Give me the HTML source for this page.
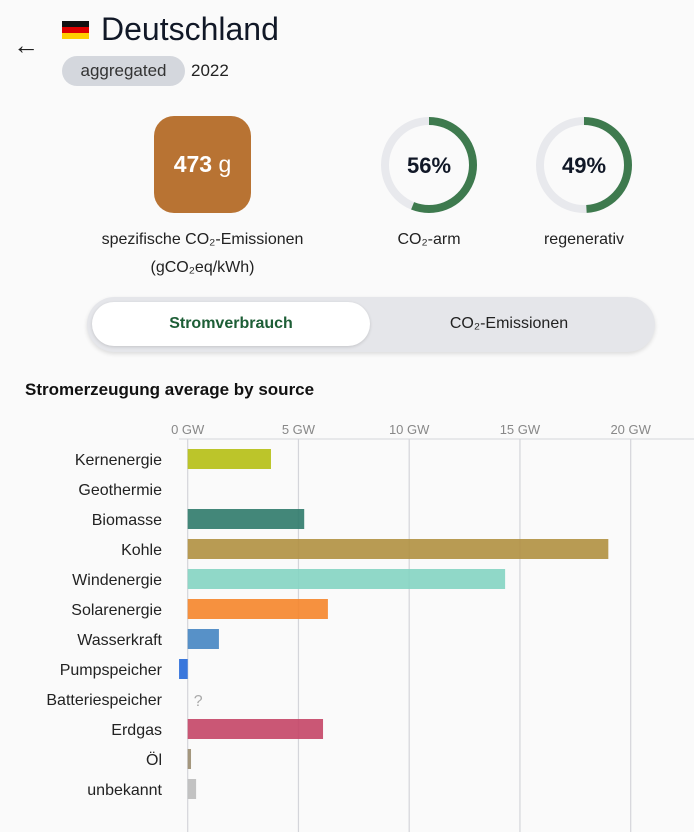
<!DOCTYPE html>
<html><head><meta charset="utf-8"><style>
body{margin:0;width:694px;height:832px;background:#fafafa;font-family:"Liberation Sans",sans-serif;color:#1a1f2e;position:relative;overflow:hidden}
.abs{position:absolute}
</style></head><body>
<div class="abs" style="left:13px;top:30px;font-size:26px;line-height:30px;color:#222">&#8592;</div>
<div class="abs" style="left:62px;top:21px;width:27px;height:18px">
<div style="height:6px;background:#111"></div><div style="height:6px;background:#dd0000"></div><div style="height:6px;background:#ffce00"></div></div>
<div class="abs" style="left:101px;top:10px;font-size:32px;line-height:38px;color:#111827">Deutschland</div>
<div class="abs" style="left:62px;top:56px;width:123px;height:30px;border-radius:15px;background:#d4d7dd;font-size:17px;line-height:30px;text-align:center;color:#333">aggregated</div>
<div class="abs" style="left:191px;top:56px;font-size:17px;line-height:30px;color:#222">2022</div>
<div class="abs" style="left:154px;top:116px;width:97px;height:97px;border-radius:20px;background:#b87333;color:#fff;text-align:center;line-height:97px;font-size:23px"><b>473</b> g</div>
<div class="abs" style="left:60px;top:226px;width:285px;text-align:center;font-size:16px;line-height:28px;color:#222">spezifische CO₂-Emissionen<br>(gCO₂eq/kWh)</div>
<svg class="abs" style="left:0;top:0" width="694" height="300">
<g>
<circle cx="429" cy="165" r="44" fill="none" stroke="#e8e9ed" stroke-width="8"/>
<circle cx="429" cy="165" r="44" fill="none" stroke="#3e7a4e" stroke-width="8" stroke-dasharray="154.8 400" transform="rotate(-90 429 165)"/>
<text x="429" y="173" text-anchor="middle" font-size="22" font-weight="bold" fill="#111827" font-family="Liberation Sans">56%</text></g>
<g>
<circle cx="584" cy="165" r="44" fill="none" stroke="#e8e9ed" stroke-width="8"/>
<circle cx="584" cy="165" r="44" fill="none" stroke="#3e7a4e" stroke-width="8" stroke-dasharray="135.5 400" transform="rotate(-90 584 165)"/>
<text x="584" y="173" text-anchor="middle" font-size="22" font-weight="bold" fill="#111827" font-family="Liberation Sans">49%</text></g>
</svg>
<div class="abs" style="left:369px;top:228px;width:120px;text-align:center;font-size:16px;line-height:24px;color:#222">CO₂-arm</div>
<div class="abs" style="left:524px;top:228px;width:120px;text-align:center;font-size:16px;line-height:24px;color:#222">regenerativ</div>
<div class="abs" style="left:87px;top:297px;width:568px;height:55px;border-radius:28px;background:#e5e6ea;box-shadow:0 2px 4px rgba(0,0,0,.12)"></div>
<div class="abs" style="left:92px;top:302px;width:278px;height:44px;border-radius:22px;background:#fff;box-shadow:0 1px 3px rgba(0,0,0,.15);text-align:center;line-height:44px;font-size:16px;font-weight:bold;color:#1d5e36">Stromverbrauch</div>
<div class="abs" style="left:370px;top:302px;width:278px;height:44px;text-align:center;line-height:44px;font-size:16px;color:#222">CO₂-Emissionen</div>
<div class="abs" style="left:25px;top:379px;font-size:17px;font-weight:bold;line-height:22px;color:#111">Stromerzeugung average by source</div>
<svg id="chart" class="abs" style="left:0;top:410px" width="694" height="422"></svg>
<script>
const categories=["Kernenergie","Geothermie","Biomasse","Kohle","Windenergie","Solarenergie","Wasserkraft","Pumpspeicher","Batteriespeicher","Erdgas","Öl","unbekannt"];
const values=[3.76,0,5.26,18.99,14.33,6.33,1.41,-0.39,null,6.11,0.15,0.38];
const colors=["#b5bf13","#aaa","#2f7a6a","#b09040","#84d4c2","#f5852a","#4585c2","#2468d8","#999","#c44566","#9a8c70","#bbbbbb"];
const ticks=[0,5,10,15,20];
const tickLabels=["0 GW","5 GW","10 GW","15 GW","20 GW"];
const NS="http://www.w3.org/2000/svg";
const svg=document.getElementById('chart');
const x=v=>187.7+v*22.15;
const yRow=i=>39+i*30;
function mk(t,a){const e=document.createElementNS(NS,t);for(const k in a)e.setAttribute(k,a[k]);svg.appendChild(e);return e;}
const ax=mk('line',{x1:179,x2:694,y1:29,y2:29,stroke:'#d4d5da','stroke-width':1});


ticks.forEach((t,i)=>{
 const g=mk('line',{x1:x(t),x2:x(t),y1:29,y2:422,stroke:'#d4d5da','stroke-width':1.2});
 
 
 const l=mk('text',{x:x(t),y:24,'text-anchor':'middle','font-size':13,fill:'#888','font-family':'Liberation Sans'});
 l.textContent=tickLabels[i];
 
 
});
categories.forEach((c,i)=>{
 const cy=yRow(i)+10;
 const l=mk('text',{x:162,y:cy+6,'text-anchor':'end','font-size':16,fill:'#222','font-family':'Liberation Sans'});
 l.textContent=c;
 
 
 const v=values[i];
 if(v===null){
  const q=mk('text',{x:x(0)+6,y:cy+7,'font-size':16,fill:'#aaa','font-family':'Liberation Sans'});
  q.textContent='?';
  
  
  return;
 }
 if(v===0)return;
 const r=mk('rect',{x:Math.min(x(0),x(v)),y:yRow(i),width:Math.abs(x(v)-x(0)),height:20,fill:colors[i],opacity:0.9});
 
 
});
</script>
</body></html>
